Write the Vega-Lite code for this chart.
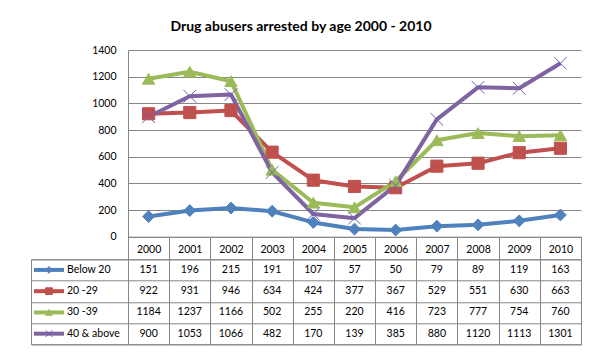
{
  "$schema": "https://vega.github.io/schema/vega-lite/v6.json",
  "padding": {"left": 30, "top": 20, "right": 20, "bottom": 10},
  "title": {"text": "Drug abusers arrested by age 2000 - 2010", "fontSize": 14, "font": "Lato", "fontWeight": "bold", "color": "#000000", "anchor": "middle", "offset": 11, "dx": -5},
  "columns": 2,
  "bounds": "flush",
  "spacing": {"row": 22.3, "column": 0},
  "resolve": {"scale": {"x": "independent", "y": "independent"}},
  "datasets": {
    "d": [
      {"year": "2000", "group": "Below 20", "value": 151},
      {"year": "2001", "group": "Below 20", "value": 196},
      {"year": "2002", "group": "Below 20", "value": 215},
      {"year": "2003", "group": "Below 20", "value": 191},
      {"year": "2004", "group": "Below 20", "value": 107},
      {"year": "2005", "group": "Below 20", "value": 57},
      {"year": "2006", "group": "Below 20", "value": 50},
      {"year": "2007", "group": "Below 20", "value": 79},
      {"year": "2008", "group": "Below 20", "value": 89},
      {"year": "2009", "group": "Below 20", "value": 119},
      {"year": "2010", "group": "Below 20", "value": 163},
      {"year": "2000", "group": "20 -29", "value": 922},
      {"year": "2001", "group": "20 -29", "value": 931},
      {"year": "2002", "group": "20 -29", "value": 946},
      {"year": "2003", "group": "20 -29", "value": 634},
      {"year": "2004", "group": "20 -29", "value": 424},
      {"year": "2005", "group": "20 -29", "value": 377},
      {"year": "2006", "group": "20 -29", "value": 367},
      {"year": "2007", "group": "20 -29", "value": 529},
      {"year": "2008", "group": "20 -29", "value": 551},
      {"year": "2009", "group": "20 -29", "value": 630},
      {"year": "2010", "group": "20 -29", "value": 663},
      {"year": "2000", "group": "30 -39", "value": 1184},
      {"year": "2001", "group": "30 -39", "value": 1237},
      {"year": "2002", "group": "30 -39", "value": 1166},
      {"year": "2003", "group": "30 -39", "value": 502},
      {"year": "2004", "group": "30 -39", "value": 255},
      {"year": "2005", "group": "30 -39", "value": 220},
      {"year": "2006", "group": "30 -39", "value": 416},
      {"year": "2007", "group": "30 -39", "value": 723},
      {"year": "2008", "group": "30 -39", "value": 777},
      {"year": "2009", "group": "30 -39", "value": 754},
      {"year": "2010", "group": "30 -39", "value": 760},
      {"year": "2000", "group": "40 & above", "value": 900},
      {"year": "2001", "group": "40 & above", "value": 1053},
      {"year": "2002", "group": "40 & above", "value": 1066},
      {"year": "2003", "group": "40 & above", "value": 482},
      {"year": "2004", "group": "40 & above", "value": 170},
      {"year": "2005", "group": "40 & above", "value": 139},
      {"year": "2006", "group": "40 & above", "value": 385},
      {"year": "2007", "group": "40 & above", "value": 880},
      {"year": "2008", "group": "40 & above", "value": 1120},
      {"year": "2009", "group": "40 & above", "value": 1113},
      {"year": "2010", "group": "40 & above", "value": 1301}
    ],
    "g": [
      {"group": "Below 20"},
      {"group": "20 -29"},
      {"group": "30 -39"},
      {"group": "40 & above"}
    ]
  },
  "concat": [
    {
      "width": 97,
      "height": 186.7,
      "data": {"name": "g"},
      "view": {"stroke": null},
      "mark": {"type": "point", "opacity": 0},
      "encoding": {}
    },
    {
      "width": 453,
      "height": 186.7,
      "data": {"name": "d"},
      "view": {"stroke": null},
      "encoding": {
        "x": {
          "field": "year", "type": "ordinal",
          "scale": {"paddingInner": 0, "paddingOuter": 0},
          "axis": {"title": null, "labelAngle": 0, "tickBand": "extent", "tickSize": 22.3, "tickColor": "#868686", "domainColor": "#868686", "labelBaseline": "middle", "labelPadding": -10, "labelFontSize": 10.5, "labelColor": "#000000", "labelFont": "Lato"}
        },
        "y": {
          "field": "value", "type": "quantitative",
          "scale": {"domain": [0, 1400], "nice": false},
          "axis": {"title": null, "format": "d", "values": [0, 200, 400, 600, 800, 1000, 1200, 1400], "grid": true, "gridColor": "#868686", "ticks": false, "labelPadding": 12, "domainColor": "#868686", "labelFontSize": 10.5, "labelColor": "#000000", "labelFont": "Lato"}
        },
        "color": {
          "field": "group", "type": "nominal",
          "scale": {"domain": ["Below 20", "20 -29", "30 -39", "40 & above"], "range": ["#4F81BD", "#C0504D", "#9BBB59", "#8064A2"]},
          "legend": null
        }
      },
      "layer": [
        {"mark": {"type": "line", "strokeWidth": 4, "strokeJoin": "round"}},
        {
          "mark": {"type": "point", "filled": true, "opacity": 1, "strokeWidth": 1},
          "encoding": {
            "stroke": {"field": "group", "type": "nominal", "scale": {"domain": ["Below 20", "20 -29", "30 -39", "40 & above"], "range": ["#4F81BD", "#C0504D", "#9BBB59", "#7060B0"]}, "legend": null},
            "shape": {"field": "group", "type": "nominal", "scale": {"domain": ["Below 20", "20 -29", "30 -39", "40 & above"], "range": ["diamond", "square", "triangle-up", "M-1,-1L1,1M1,-1L-1,1"]}, "legend": null},
            "size": {"field": "group", "type": "nominal", "scale": {"domain": ["Below 20", "20 -29", "30 -39", "40 & above"], "range": [140, 160, 180, 150]}, "legend": null}
          }
        }
      ]
    },
    {
      "width": 97,
      "height": 85,
      "data": {"name": "g"},
      "encoding": {
        "y": {
          "field": "group", "type": "nominal",
          "scale": {"domain": ["Below 20", "20 -29", "30 -39", "40 & above"]},
          "axis": {"title": null, "labels": false, "ticks": false, "domain": false, "grid": true, "tickBand": "extent", "gridColor": "#868686"}
        }
      },
      "layer": [
        {
          "mark": {"type": "rule", "strokeWidth": 4},
          "encoding": {
            "x": {"datum": 3, "type": "quantitative", "scale": {"domain": [0, 97], "nice": false}, "axis": null},
            "x2": {"datum": 33},
            "color": {"field": "group", "type": "nominal", "scale": {"domain": ["Below 20", "20 -29", "30 -39", "40 & above"], "range": ["#4F81BD", "#C0504D", "#9BBB59", "#8064A2"]}, "legend": null}
          }
        },
        {
          "mark": {"type": "point", "filled": true, "opacity": 1, "strokeWidth": 1, "size": 45},
          "encoding": {
            "x": {"datum": 18, "type": "quantitative"},
            "color": {"field": "group", "type": "nominal", "scale": {"domain": ["Below 20", "20 -29", "30 -39", "40 & above"], "range": ["#4F81BD", "#C0504D", "#9BBB59", "#8064A2"]}, "legend": null},
            "stroke": {"field": "group", "type": "nominal", "scale": {"domain": ["Below 20", "20 -29", "30 -39", "40 & above"], "range": ["#4F81BD", "#C0504D", "#9BBB59", "#7060B0"]}, "legend": null},
            "shape": {"field": "group", "type": "nominal", "scale": {"domain": ["Below 20", "20 -29", "30 -39", "40 & above"], "range": ["diamond", "square", "triangle-up", "M-1,-1L1,1M1,-1L-1,1"]}, "legend": null}
          }
        },
        {
          "mark": {"type": "text", "align": "left", "baseline": "middle", "fontSize": 10.5, "font": "Lato", "color": "#000000"},
          "encoding": {
            "x": {"datum": 36, "type": "quantitative"},
            "text": {"field": "group", "type": "nominal"}
          }
        }
      ]
    },
    {
      "width": 453,
      "height": 85,
      "data": {"name": "d"},
      "mark": {"type": "text", "fontSize": 10.5, "font": "Lato", "color": "#000000", "baseline": "middle"},
      "encoding": {
        "x": {
          "field": "year", "type": "ordinal",
          "scale": {"paddingInner": 0, "paddingOuter": 0},
          "axis": {"title": null, "labels": false, "ticks": false, "domain": false, "grid": true, "tickBand": "extent", "gridColor": "#868686"}
        },
        "y": {
          "field": "group", "type": "nominal",
          "scale": {"domain": ["Below 20", "20 -29", "30 -39", "40 & above"]},
          "axis": {"title": null, "labels": false, "ticks": false, "domain": false, "grid": true, "tickBand": "extent", "gridColor": "#868686"}
        },
        "text": {"field": "value", "type": "quantitative", "format": "d"}
      }
    }
  ],
  "config": {
    "font": "Lato",
    "view": {"stroke": "#868686"},
    "axis": {"gridOpacity": 1, "domainOpacity": 1}
  }
}
